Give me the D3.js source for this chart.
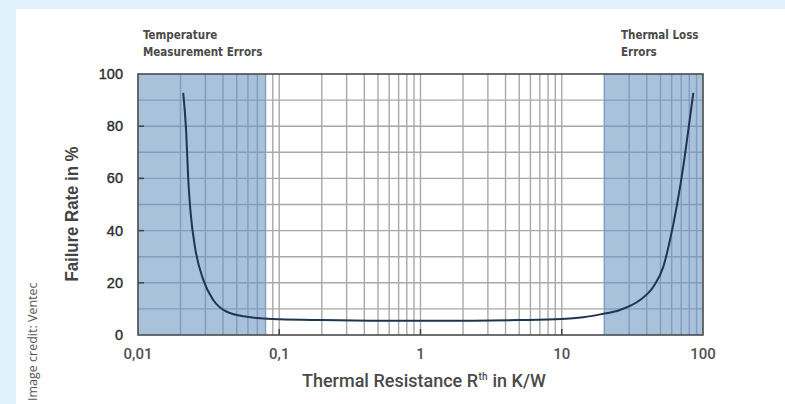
<!DOCTYPE html>
<html>
<head>
<meta charset="utf-8">
<script src="https://cdn.jsdelivr.net/npm/d3@7"></script>
<style>
  html, body { margin: 0; padding: 0; background: #e1f1fb; }
  svg { display: block; }
</style>
</head>
<body>
<div id="chart"></div>
<script>
// curve: thermal resistance (K/W) vs failure rate (%)
var curveR    = [0.0209, 0.0219, 0.0227, 0.0236, 0.0253, 0.029, 0.0341, 0.0425, 0.0589, 0.073,
                 0.1, 0.2, 0.5, 1, 2, 5, 10, 14.2, 18.7, 25.8, 35.8, 44.5, 52.4, 58.4, 65.1, 72.5, 78.7, 85.4];
var curveRate = [92.8, 78.5, 59.4, 46.6, 33.8, 21.1, 13.4, 8.9, 7.0, 6.4,
                 6.0, 5.7, 5.5, 5.5, 5.5, 5.7, 6.1, 6.8, 7.9, 9.6, 13.4, 18.5, 26.2, 36.4, 49.2, 64.5, 78.5, 92.8];

var xTicks = [0.01, 0.1, 1, 10, 100];
var xTickLabels = ["0,01", "0,1", "1", "10", "100"];
var yTicks = [0, 20, 40, 60, 80, 100];

var zoneFrom = [0.01, 20];
var zoneTo = [0.08, 100];
var zoneLabels = [["Temperature", "Measurement Errors"], ["Thermal Loss", "Errors"]];

var W = 785, H = 404;
var margin = {left: 138, top: 74, right: 82, bottom: 69};
var iw = W - margin.left - margin.right;
var ih = H - margin.top - margin.bottom;

var svg = d3.select("#chart").append("svg")
    .attr("width", W)
    .attr("height", H);

// white card
svg.append("rect")
    .attr("x", 16).attr("y", 9)
    .attr("width", W - 16).attr("height", H - 9)
    .style("fill", "#fff");

var x = d3.scaleLog().domain([0.01, 100]).range([0, iw]);
var y = d3.scaleLinear().domain([0, 100]).range([ih, 0]);

var g = svg.append("g").attr("transform", "translate(" + margin.left + "," + margin.top + ")");

// shaded error zones
g.selectAll(".zone")
    .data(zoneFrom)
    .enter().append("rect")
    .attr("class", "zone")
    .attr("x", function(d) { return x(d); })
    .attr("y", 0)
    .attr("width", function(d, i) { return x(zoneTo[i]) - x(d); })
    .attr("height", ih)
    .style("fill", "#a9c1da");

function inZone(v)
{
    for (var i = 0; i < zoneFrom.length; i++)
    {
        if (v >= zoneFrom[i] - 1e-9 && v <= zoneTo[i] + 1e-9) return true;
    }
    return false;
}

// grid: every log minor step and every 10 %
var minor = x.ticks().filter(function(d) { return d > 0.01 && d < 100; });
g.selectAll(".vgrid")
    .data(minor)
    .enter().append("line")
    .attr("class", "vgrid")
    .attr("x1", function(d) { return x(d); })
    .attr("x2", function(d) { return x(d); })
    .attr("y1", 0).attr("y2", ih)
    .style("stroke", function(d) { return inZone(d) ? "#7f9dbc" : "#a8a8a8"; })
    .style("stroke-width", 1.4);

var hLines = d3.range(10, 100, 10);
hLines.forEach(function(v) {
    // split each horizontal line so it changes colour inside the zones
    var edges = [0.01, 0.08, 20, 100];
    for (var i = 0; i < edges.length - 1; i++)
    {
        var mid = Math.sqrt(edges[i] * edges[i + 1]);
        g.append("line")
            .attr("x1", x(edges[i])).attr("x2", x(edges[i + 1]))
            .attr("y1", y(v)).attr("y2", y(v))
            .style("stroke", inZone(mid) ? "#7f9dbc" : "#a8a8a8")
            .style("stroke-width", 1.4);
    }
});

// inner ticks on decades / 20 %
g.selectAll(".xt")
    .data(xTicks.slice(1, -1))
    .enter().append("line")
    .attr("x1", function(d) { return x(d); })
    .attr("x2", function(d) { return x(d); })
    .attr("y1", ih).attr("y2", ih - 6)
    .style("stroke", "#444").style("stroke-width", 1.5);

g.selectAll(".yt")
    .data(yTicks.slice(1, -1))
    .enter().append("line")
    .attr("x1", 0).attr("x2", 6)
    .attr("y1", function(d) { return y(d); })
    .attr("y2", function(d) { return y(d); })
    .style("stroke", "#444").style("stroke-width", 1.5);

// frame
g.append("rect")
    .attr("x", 0).attr("y", 0)
    .attr("width", iw).attr("height", ih)
    .style("fill", "none")
    .style("stroke", "#4a4a4a")
    .style("stroke-width", 1.6);

// curve
var line = d3.line()
    .x(function(d, i) { return x(curveR[i]); })
    .y(function(d) { return y(d); })
    .curve(d3.curveMonotoneX);

g.append("path")
    .datum(curveRate)
    .attr("d", line)
    .style("fill", "none")
    .style("stroke", "#1d3550")
    .style("stroke-width", 2);

// tick labels
g.selectAll(".xl")
    .data(xTicks)
    .enter().append("text")
    .attr("x", function(d) { return x(d); })
    .attr("y", ih + 24)
    .attr("text-anchor", "middle")
    .style("font-family", "Roboto, 'DejaVu Sans', sans-serif")
    .style("font-size", "15px")
    .style("font-weight", 500)
    .style("fill", "#505050")
    .text(function(d, i) { return xTickLabels[i]; });

g.selectAll(".yl")
    .data(yTicks)
    .enter().append("text")
    .attr("x", -15)
    .attr("y", function(d) { return y(d) + 5; })
    .attr("text-anchor", "end")
    .style("font-family", "'Liberation Sans', Arial, sans-serif")
    .style("font-size", "14.5px")
    .style("fill", "#2e2e2e")
    .style("stroke", "#2e2e2e")
    .style("stroke-width", 0.4)
    .text(function(d) { return d; });

// axis titles (x title in three pieces so the superscript sits beside the R)
var titleFont = "Roboto, 'DejaVu Sans', sans-serif";
var t1 = svg.append("text")
    .attr("x", 302)
    .attr("y", 387)
    .style("font-family", titleFont)
    .style("font-size", "18px")
    .style("font-weight", 500)
    .style("fill", "#4a4a4a")
    .text("Thermal Resistance R");
var t1w = t1.node().getComputedTextLength();
var t2 = svg.append("text")
    .attr("x", 302 + t1w + 0.5)
    .attr("y", 380)
    .style("font-family", titleFont)
    .style("font-size", "10px")
    .style("font-weight", 500)
    .style("fill", "#4a4a4a")
    .text("th");
var t2w = t2.node().getComputedTextLength();
svg.append("text")
    .attr("x", 302 + t1w + t2w + 5.5)
    .attr("y", 387)
    .style("font-family", titleFont)
    .style("font-size", "18px")
    .style("font-weight", 500)
    .style("fill", "#4a4a4a")
    .text("in K/W");

svg.append("text")
    .attr("transform", "translate(78,214) rotate(-90)")
    .attr("text-anchor", "middle")
    .attr("textLength", 135)
    .attr("lengthAdjust", "spacingAndGlyphs")
    .style("font-family", "'Liberation Sans', Arial, sans-serif")
    .style("font-size", "18px")
    .style("font-weight", "bold")
    .style("fill", "#444")
    .text("Failure Rate in %");

// zone labels
var zoneX = [143, 621];
zoneLabels.forEach(function(lines, i) {
    lines.forEach(function(t, j) {
        svg.append("text")
            .attr("x", zoneX[i])
            .attr("y", 39 + j * 16.5)
            .style("font-family", "'DejaVu Sans Condensed', 'DejaVu Sans', sans-serif")
            .style("font-size", "11.5px")
            .style("font-weight", "bold")
            .style("fill", "#4a4a4a")
            .text(t);
    });
});

// credit
svg.append("text")
    .attr("transform", "translate(37,401) rotate(-90)")
    .style("font-family", "'Open Sans', 'Noto Sans', sans-serif")
    .style("font-size", "12.5px")
    .style("fill", "#555")
    .text("Image credit: Ventec");
</script>
</body>
</html>
